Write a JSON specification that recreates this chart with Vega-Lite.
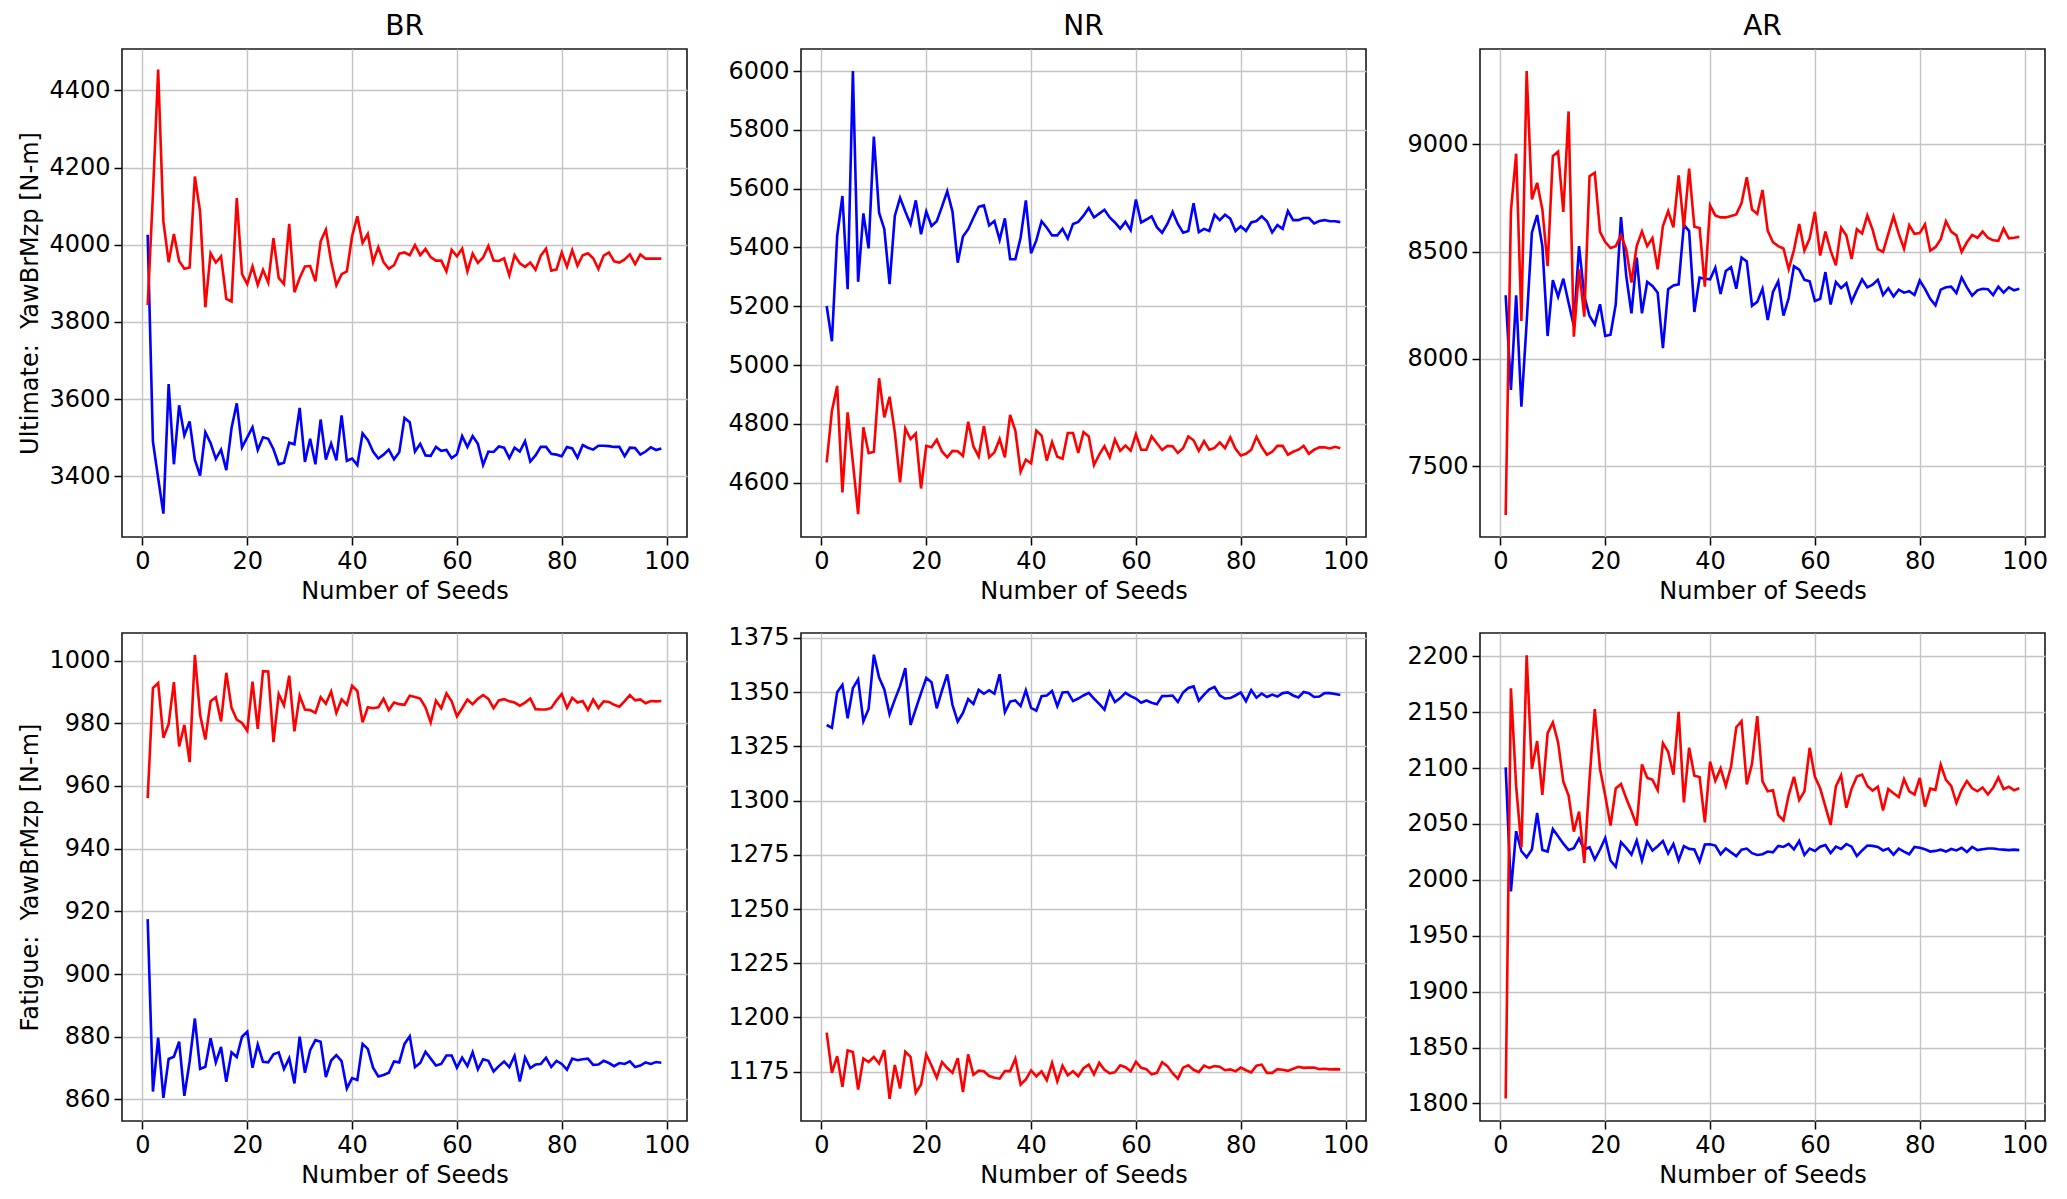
{
  "$schema": "https://vega.github.io/schema/vega-lite/v6.json",
  "background": "white",
  "padding": {"left": 18, "top": 12, "right": 10, "bottom": 5},
  "bounds": "flush",
  "columns": 3,
  "spacing": {"row": 96, "column": 114},
  "config": {
    "font": "DejaVu Sans",
    "view": {"stroke": "#1a1a1a", "strokeWidth": 1.6},
    "axis": {
      "grid": true, "gridColor": "#c4c4c4", "gridWidth": 1.4, "domain": false,
      "tickColor": "#000", "tickSize": 8, "tickWidth": 1.5, "format": "d",
      "labelFontSize": 24, "labelColor": "#000", "labelOverlap": false, "labelFlush": false, "labelPadding": 4,
      "titleFontSize": 24, "titleFontWeight": "normal", "titleColor": "#000", "titlePadding": 6
    },
    "title": {"fontSize": 28, "fontWeight": "normal", "color": "#000", "offset": 8},
    "line": {"strokeWidth": 2.6}
  },
  "datasets": {
    "bru": [
      {"s":"b","n":1,"v":4026},{"s":"b","n":2,"v":3490},{"s":"b","n":3,"v":3395},{"s":"b","n":4,"v":3303},{"s":"b","n":5,"v":3639},{"s":"b","n":6,"v":3431},{"s":"b","n":7,"v":3584},{"s":"b","n":8,"v":3506},{"s":"b","n":9,"v":3542},{"s":"b","n":10,"v":3443},
      {"s":"b","n":11,"v":3402},{"s":"b","n":12,"v":3514},{"s":"b","n":13,"v":3486},{"s":"b","n":14,"v":3445},{"s":"b","n":15,"v":3469},{"s":"b","n":16,"v":3416},{"s":"b","n":17,"v":3525},{"s":"b","n":18,"v":3589},{"s":"b","n":19,"v":3475},{"s":"b","n":20,"v":3501},
      {"s":"b","n":21,"v":3527},{"s":"b","n":22,"v":3468},{"s":"b","n":23,"v":3501},{"s":"b","n":24,"v":3497},{"s":"b","n":25,"v":3470},{"s":"b","n":26,"v":3431},{"s":"b","n":27,"v":3435},{"s":"b","n":28,"v":3487},{"s":"b","n":29,"v":3483},{"s":"b","n":30,"v":3577},
      {"s":"b","n":31,"v":3437},{"s":"b","n":32,"v":3497},{"s":"b","n":33,"v":3431},{"s":"b","n":34,"v":3547},{"s":"b","n":35,"v":3443},{"s":"b","n":36,"v":3485},{"s":"b","n":37,"v":3441},{"s":"b","n":38,"v":3558},{"s":"b","n":39,"v":3440},{"s":"b","n":40,"v":3446},
      {"s":"b","n":41,"v":3429},{"s":"b","n":42,"v":3511},{"s":"b","n":43,"v":3494},{"s":"b","n":44,"v":3464},{"s":"b","n":45,"v":3446},{"s":"b","n":46,"v":3456},{"s":"b","n":47,"v":3469},{"s":"b","n":48,"v":3444},{"s":"b","n":49,"v":3462},{"s":"b","n":50,"v":3551},
      {"s":"b","n":51,"v":3540},{"s":"b","n":52,"v":3464},{"s":"b","n":53,"v":3484},{"s":"b","n":54,"v":3454},{"s":"b","n":55,"v":3453},{"s":"b","n":56,"v":3476},{"s":"b","n":57,"v":3466},{"s":"b","n":58,"v":3468},{"s":"b","n":59,"v":3447},{"s":"b","n":60,"v":3457},
      {"s":"b","n":61,"v":3504},{"s":"b","n":62,"v":3476},{"s":"b","n":63,"v":3504},{"s":"b","n":64,"v":3484},{"s":"b","n":65,"v":3429},{"s":"b","n":66,"v":3464},{"s":"b","n":67,"v":3463},{"s":"b","n":68,"v":3477},{"s":"b","n":69,"v":3474},{"s":"b","n":70,"v":3447},
      {"s":"b","n":71,"v":3474},{"s":"b","n":72,"v":3464},{"s":"b","n":73,"v":3491},{"s":"b","n":74,"v":3438},{"s":"b","n":75,"v":3454},{"s":"b","n":76,"v":3476},{"s":"b","n":77,"v":3476},{"s":"b","n":78,"v":3458},{"s":"b","n":79,"v":3456},{"s":"b","n":80,"v":3452},
      {"s":"b","n":81,"v":3476},{"s":"b","n":82,"v":3472},{"s":"b","n":83,"v":3448},{"s":"b","n":84,"v":3481},{"s":"b","n":85,"v":3474},{"s":"b","n":86,"v":3469},{"s":"b","n":87,"v":3479},{"s":"b","n":88,"v":3479},{"s":"b","n":89,"v":3478},{"s":"b","n":90,"v":3476},
      {"s":"b","n":91,"v":3476},{"s":"b","n":92,"v":3452},{"s":"b","n":93,"v":3474},{"s":"b","n":94,"v":3473},{"s":"b","n":95,"v":3456},{"s":"b","n":96,"v":3464},{"s":"b","n":97,"v":3475},{"s":"b","n":98,"v":3468},{"s":"b","n":99,"v":3472},
      {"s":"r","n":1,"v":3844},{"s":"r","n":2,"v":4130},{"s":"r","n":3,"v":4454},{"s":"r","n":4,"v":4060},{"s":"r","n":5,"v":3955},{"s":"r","n":6,"v":4028},{"s":"r","n":7,"v":3958},{"s":"r","n":8,"v":3938},{"s":"r","n":9,"v":3941},{"s":"r","n":10,"v":4177},
      {"s":"r","n":11,"v":4086},{"s":"r","n":12,"v":3838},{"s":"r","n":13,"v":3978},{"s":"r","n":14,"v":3954},{"s":"r","n":15,"v":3970},{"s":"r","n":16,"v":3860},{"s":"r","n":17,"v":3853},{"s":"r","n":18,"v":4121},{"s":"r","n":19,"v":3924},{"s":"r","n":20,"v":3898},
      {"s":"r","n":21,"v":3944},{"s":"r","n":22,"v":3896},{"s":"r","n":23,"v":3935},{"s":"r","n":24,"v":3902},{"s":"r","n":25,"v":4017},{"s":"r","n":26,"v":3914},{"s":"r","n":27,"v":3898},{"s":"r","n":28,"v":4054},{"s":"r","n":29,"v":3877},{"s":"r","n":30,"v":3914},
      {"s":"r","n":31,"v":3944},{"s":"r","n":32,"v":3945},{"s":"r","n":33,"v":3905},{"s":"r","n":34,"v":4009},{"s":"r","n":35,"v":4039},{"s":"r","n":36,"v":3957},{"s":"r","n":37,"v":3895},{"s":"r","n":38,"v":3924},{"s":"r","n":39,"v":3931},{"s":"r","n":40,"v":4022},
      {"s":"r","n":41,"v":4074},{"s":"r","n":42,"v":4005},{"s":"r","n":43,"v":4028},{"s":"r","n":44,"v":3955},{"s":"r","n":45,"v":3994},{"s":"r","n":46,"v":3955},{"s":"r","n":47,"v":3938},{"s":"r","n":48,"v":3947},{"s":"r","n":49,"v":3977},{"s":"r","n":50,"v":3980},
      {"s":"r","n":51,"v":3973},{"s":"r","n":52,"v":3999},{"s":"r","n":53,"v":3973},{"s":"r","n":54,"v":3989},{"s":"r","n":55,"v":3968},{"s":"r","n":56,"v":3959},{"s":"r","n":57,"v":3959},{"s":"r","n":58,"v":3931},{"s":"r","n":59,"v":3987},{"s":"r","n":60,"v":3970},
      {"s":"r","n":61,"v":3990},{"s":"r","n":62,"v":3931},{"s":"r","n":63,"v":3977},{"s":"r","n":64,"v":3953},{"s":"r","n":65,"v":3967},{"s":"r","n":66,"v":3997},{"s":"r","n":67,"v":3959},{"s":"r","n":68,"v":3958},{"s":"r","n":69,"v":3965},{"s":"r","n":70,"v":3921},
      {"s":"r","n":71,"v":3973},{"s":"r","n":72,"v":3952},{"s":"r","n":73,"v":3943},{"s":"r","n":74,"v":3954},{"s":"r","n":75,"v":3935},{"s":"r","n":76,"v":3972},{"s":"r","n":77,"v":3990},{"s":"r","n":78,"v":3933},{"s":"r","n":79,"v":3936},{"s":"r","n":80,"v":3980},
      {"s":"r","n":81,"v":3943},{"s":"r","n":82,"v":3986},{"s":"r","n":83,"v":3946},{"s":"r","n":84,"v":3973},{"s":"r","n":85,"v":3978},{"s":"r","n":86,"v":3965},{"s":"r","n":87,"v":3937},{"s":"r","n":88,"v":3972},{"s":"r","n":89,"v":3980},{"s":"r","n":90,"v":3957},
      {"s":"r","n":91,"v":3954},{"s":"r","n":92,"v":3962},{"s":"r","n":93,"v":3975},{"s":"r","n":94,"v":3950},{"s":"r","n":95,"v":3975},{"s":"r","n":96,"v":3964},{"s":"r","n":97,"v":3964},{"s":"r","n":98,"v":3964},{"s":"r","n":99,"v":3964}
    ],
    "nru": [
      {"s":"b","n":1,"v":5201},{"s":"b","n":2,"v":5081},{"s":"b","n":3,"v":5439},{"s":"b","n":4,"v":5575},{"s":"b","n":5,"v":5258},{"s":"b","n":6,"v":6000},{"s":"b","n":7,"v":5283},{"s":"b","n":8,"v":5516},{"s":"b","n":9,"v":5397},{"s":"b","n":10,"v":5777},
      {"s":"b","n":11,"v":5518},{"s":"b","n":12,"v":5462},{"s":"b","n":13,"v":5275},{"s":"b","n":14,"v":5507},{"s":"b","n":15,"v":5569},{"s":"b","n":16,"v":5522},{"s":"b","n":17,"v":5479},{"s":"b","n":18,"v":5560},{"s":"b","n":19,"v":5445},{"s":"b","n":20,"v":5522},
      {"s":"b","n":21,"v":5473},{"s":"b","n":22,"v":5489},{"s":"b","n":23,"v":5539},{"s":"b","n":24,"v":5591},{"s":"b","n":25,"v":5522},{"s":"b","n":26,"v":5348},{"s":"b","n":27,"v":5437},{"s":"b","n":28,"v":5462},{"s":"b","n":29,"v":5501},{"s":"b","n":30,"v":5538},
      {"s":"b","n":31,"v":5543},{"s":"b","n":32,"v":5475},{"s":"b","n":33,"v":5490},{"s":"b","n":34,"v":5426},{"s":"b","n":35,"v":5499},{"s":"b","n":36,"v":5360},{"s":"b","n":37,"v":5360},{"s":"b","n":38,"v":5433},{"s":"b","n":39,"v":5560},{"s":"b","n":40,"v":5380},
      {"s":"b","n":41,"v":5424},{"s":"b","n":42,"v":5489},{"s":"b","n":43,"v":5467},{"s":"b","n":44,"v":5441},{"s":"b","n":45,"v":5441},{"s":"b","n":46,"v":5463},{"s":"b","n":47,"v":5430},{"s":"b","n":48,"v":5480},{"s":"b","n":49,"v":5487},{"s":"b","n":50,"v":5508},
      {"s":"b","n":51,"v":5534},{"s":"b","n":52,"v":5502},{"s":"b","n":53,"v":5515},{"s":"b","n":54,"v":5528},{"s":"b","n":55,"v":5502},{"s":"b","n":56,"v":5485},{"s":"b","n":57,"v":5464},{"s":"b","n":58,"v":5487},{"s":"b","n":59,"v":5459},{"s":"b","n":60,"v":5563},
      {"s":"b","n":61,"v":5485},{"s":"b","n":62,"v":5495},{"s":"b","n":63,"v":5506},{"s":"b","n":64,"v":5469},{"s":"b","n":65,"v":5450},{"s":"b","n":66,"v":5480},{"s":"b","n":67,"v":5521},{"s":"b","n":68,"v":5480},{"s":"b","n":69,"v":5450},{"s":"b","n":70,"v":5456},
      {"s":"b","n":71,"v":5550},{"s":"b","n":72,"v":5452},{"s":"b","n":73,"v":5463},{"s":"b","n":74,"v":5456},{"s":"b","n":75,"v":5511},{"s":"b","n":76,"v":5493},{"s":"b","n":77,"v":5511},{"s":"b","n":78,"v":5498},{"s":"b","n":79,"v":5456},{"s":"b","n":80,"v":5472},
      {"s":"b","n":81,"v":5456},{"s":"b","n":82,"v":5485},{"s":"b","n":83,"v":5490},{"s":"b","n":84,"v":5506},{"s":"b","n":85,"v":5489},{"s":"b","n":86,"v":5451},{"s":"b","n":87,"v":5476},{"s":"b","n":88,"v":5463},{"s":"b","n":89,"v":5524},{"s":"b","n":90,"v":5493},
      {"s":"b","n":91,"v":5493},{"s":"b","n":92,"v":5500},{"s":"b","n":93,"v":5500},{"s":"b","n":94,"v":5482},{"s":"b","n":95,"v":5490},{"s":"b","n":96,"v":5493},{"s":"b","n":97,"v":5489},{"s":"b","n":98,"v":5489},{"s":"b","n":99,"v":5486},
      {"s":"r","n":1,"v":4669},{"s":"r","n":2,"v":4844},{"s":"r","n":3,"v":4929},{"s":"r","n":4,"v":4567},{"s":"r","n":5,"v":4839},{"s":"r","n":6,"v":4669},{"s":"r","n":7,"v":4493},{"s":"r","n":8,"v":4788},{"s":"r","n":9,"v":4700},{"s":"r","n":10,"v":4705},
      {"s":"r","n":11,"v":4955},{"s":"r","n":12,"v":4822},{"s":"r","n":13,"v":4892},{"s":"r","n":14,"v":4771},{"s":"r","n":15,"v":4601},{"s":"r","n":16,"v":4784},{"s":"r","n":17,"v":4748},{"s":"r","n":18,"v":4767},{"s":"r","n":19,"v":4580},{"s":"r","n":20,"v":4725},
      {"s":"r","n":21,"v":4720},{"s":"r","n":22,"v":4746},{"s":"r","n":23,"v":4706},{"s":"r","n":24,"v":4686},{"s":"r","n":25,"v":4708},{"s":"r","n":26,"v":4707},{"s":"r","n":27,"v":4691},{"s":"r","n":28,"v":4807},{"s":"r","n":29,"v":4723},{"s":"r","n":30,"v":4689},
      {"s":"r","n":31,"v":4793},{"s":"r","n":32,"v":4686},{"s":"r","n":33,"v":4703},{"s":"r","n":34,"v":4748},{"s":"r","n":35,"v":4686},{"s":"r","n":36,"v":4830},{"s":"r","n":37,"v":4776},{"s":"r","n":38,"v":4637},{"s":"r","n":39,"v":4678},{"s":"r","n":40,"v":4666},
      {"s":"r","n":41,"v":4777},{"s":"r","n":42,"v":4760},{"s":"r","n":43,"v":4675},{"s":"r","n":44,"v":4738},{"s":"r","n":45,"v":4688},{"s":"r","n":46,"v":4681},{"s":"r","n":47,"v":4769},{"s":"r","n":48,"v":4769},{"s":"r","n":49,"v":4701},{"s":"r","n":50,"v":4772},
      {"s":"r","n":51,"v":4757},{"s":"r","n":52,"v":4660},{"s":"r","n":53,"v":4695},{"s":"r","n":54,"v":4724},{"s":"r","n":55,"v":4686},{"s":"r","n":56,"v":4747},{"s":"r","n":57,"v":4708},{"s":"r","n":58,"v":4726},{"s":"r","n":59,"v":4709},{"s":"r","n":60,"v":4764},
      {"s":"r","n":61,"v":4712},{"s":"r","n":62,"v":4712},{"s":"r","n":63,"v":4757},{"s":"r","n":64,"v":4734},{"s":"r","n":65,"v":4711},{"s":"r","n":66,"v":4725},{"s":"r","n":67,"v":4724},{"s":"r","n":68,"v":4701},{"s":"r","n":69,"v":4717},{"s":"r","n":70,"v":4757},
      {"s":"r","n":71,"v":4744},{"s":"r","n":72,"v":4708},{"s":"r","n":73,"v":4741},{"s":"r","n":74,"v":4712},{"s":"r","n":75,"v":4718},{"s":"r","n":76,"v":4737},{"s":"r","n":77,"v":4717},{"s":"r","n":78,"v":4754},{"s":"r","n":79,"v":4715},{"s":"r","n":80,"v":4692},
      {"s":"r","n":81,"v":4698},{"s":"r","n":82,"v":4712},{"s":"r","n":83,"v":4756},{"s":"r","n":84,"v":4721},{"s":"r","n":85,"v":4695},{"s":"r","n":86,"v":4705},{"s":"r","n":87,"v":4725},{"s":"r","n":88,"v":4725},{"s":"r","n":89,"v":4695},{"s":"r","n":90,"v":4705},
      {"s":"r","n":91,"v":4712},{"s":"r","n":92,"v":4725},{"s":"r","n":93,"v":4698},{"s":"r","n":94,"v":4712},{"s":"r","n":95,"v":4720},{"s":"r","n":96,"v":4720},{"s":"r","n":97,"v":4716},{"s":"r","n":98,"v":4722},{"s":"r","n":99,"v":4717}
    ],
    "aru": [
      {"s":"b","n":1,"v":8297},{"s":"b","n":2,"v":7856},{"s":"b","n":3,"v":8297},{"s":"b","n":4,"v":7778},{"s":"b","n":5,"v":8169},{"s":"b","n":6,"v":8589},{"s":"b","n":7,"v":8671},{"s":"b","n":8,"v":8526},{"s":"b","n":9,"v":8107},{"s":"b","n":10,"v":8368},
      {"s":"b","n":11,"v":8290},{"s":"b","n":12,"v":8374},{"s":"b","n":13,"v":8262},{"s":"b","n":14,"v":8154},{"s":"b","n":15,"v":8526},{"s":"b","n":16,"v":8293},{"s":"b","n":17,"v":8200},{"s":"b","n":18,"v":8161},{"s":"b","n":19,"v":8255},{"s":"b","n":20,"v":8107},
      {"s":"b","n":21,"v":8113},{"s":"b","n":22,"v":8255},{"s":"b","n":23,"v":8661},{"s":"b","n":24,"v":8387},{"s":"b","n":25,"v":8213},{"s":"b","n":26,"v":8472},{"s":"b","n":27,"v":8213},{"s":"b","n":28,"v":8359},{"s":"b","n":29,"v":8340},{"s":"b","n":30,"v":8309},
      {"s":"b","n":31,"v":8051},{"s":"b","n":32,"v":8325},{"s":"b","n":33,"v":8343},{"s":"b","n":34,"v":8348},{"s":"b","n":35,"v":8626},{"s":"b","n":36,"v":8596},{"s":"b","n":37,"v":8219},{"s":"b","n":38,"v":8379},{"s":"b","n":39,"v":8374},{"s":"b","n":40,"v":8371},
      {"s":"b","n":41,"v":8425},{"s":"b","n":42,"v":8303},{"s":"b","n":43,"v":8410},{"s":"b","n":44,"v":8428},{"s":"b","n":45,"v":8327},{"s":"b","n":46,"v":8473},{"s":"b","n":47,"v":8455},{"s":"b","n":48,"v":8248},{"s":"b","n":49,"v":8266},{"s":"b","n":50,"v":8327},
      {"s":"b","n":51,"v":8182},{"s":"b","n":52,"v":8312},{"s":"b","n":53,"v":8362},{"s":"b","n":54,"v":8202},{"s":"b","n":55,"v":8284},{"s":"b","n":56,"v":8432},{"s":"b","n":57,"v":8416},{"s":"b","n":58,"v":8369},{"s":"b","n":59,"v":8362},{"s":"b","n":60,"v":8270},
      {"s":"b","n":61,"v":8280},{"s":"b","n":62,"v":8405},{"s":"b","n":63,"v":8254},{"s":"b","n":64,"v":8359},{"s":"b","n":65,"v":8330},{"s":"b","n":66,"v":8353},{"s":"b","n":67,"v":8266},{"s":"b","n":68,"v":8321},{"s":"b","n":69,"v":8371},{"s":"b","n":70,"v":8334},
      {"s":"b","n":71,"v":8346},{"s":"b","n":72,"v":8369},{"s":"b","n":73,"v":8298},{"s":"b","n":74,"v":8330},{"s":"b","n":75,"v":8291},{"s":"b","n":76,"v":8323},{"s":"b","n":77,"v":8309},{"s":"b","n":78,"v":8316},{"s":"b","n":79,"v":8298},{"s":"b","n":80,"v":8366},
      {"s":"b","n":81,"v":8327},{"s":"b","n":82,"v":8280},{"s":"b","n":83,"v":8250},{"s":"b","n":84,"v":8323},{"s":"b","n":85,"v":8334},{"s":"b","n":86,"v":8337},{"s":"b","n":87,"v":8307},{"s":"b","n":88,"v":8380},{"s":"b","n":89,"v":8334},{"s":"b","n":90,"v":8295},
      {"s":"b","n":91,"v":8320},{"s":"b","n":92,"v":8327},{"s":"b","n":93,"v":8325},{"s":"b","n":94,"v":8298},{"s":"b","n":95,"v":8337},{"s":"b","n":96,"v":8309},{"s":"b","n":97,"v":8334},{"s":"b","n":98,"v":8320},{"s":"b","n":99,"v":8327},
      {"s":"r","n":1,"v":7273},{"s":"r","n":2,"v":8689},{"s":"r","n":3,"v":8957},{"s":"r","n":4,"v":8177},{"s":"r","n":5,"v":9342},{"s":"r","n":6,"v":8744},{"s":"r","n":7,"v":8821},{"s":"r","n":8,"v":8697},{"s":"r","n":9,"v":8433},{"s":"r","n":10,"v":8946},
      {"s":"r","n":11,"v":8967},{"s":"r","n":12,"v":8686},{"s":"r","n":13,"v":9154},{"s":"r","n":14,"v":8104},{"s":"r","n":15,"v":8418},{"s":"r","n":16,"v":8197},{"s":"r","n":17,"v":8852},{"s":"r","n":18,"v":8868},{"s":"r","n":19,"v":8592},{"s":"r","n":20,"v":8545},
      {"s":"r","n":21,"v":8517},{"s":"r","n":22,"v":8526},{"s":"r","n":23,"v":8576},{"s":"r","n":24,"v":8511},{"s":"r","n":25,"v":8356},{"s":"r","n":26,"v":8526},{"s":"r","n":27,"v":8595},{"s":"r","n":28,"v":8526},{"s":"r","n":29,"v":8564},{"s":"r","n":30,"v":8418},
      {"s":"r","n":31,"v":8620},{"s":"r","n":32,"v":8689},{"s":"r","n":33,"v":8613},{"s":"r","n":34,"v":8856},{"s":"r","n":35,"v":8612},{"s":"r","n":36,"v":8887},{"s":"r","n":37,"v":8616},{"s":"r","n":38,"v":8610},{"s":"r","n":39,"v":8337},{"s":"r","n":40,"v":8716},
      {"s":"r","n":41,"v":8669},{"s":"r","n":42,"v":8660},{"s":"r","n":43,"v":8660},{"s":"r","n":44,"v":8667},{"s":"r","n":45,"v":8674},{"s":"r","n":46,"v":8727},{"s":"r","n":47,"v":8847},{"s":"r","n":48,"v":8697},{"s":"r","n":49,"v":8676},{"s":"r","n":50,"v":8788},
      {"s":"r","n":51,"v":8597},{"s":"r","n":52,"v":8544},{"s":"r","n":53,"v":8526},{"s":"r","n":54,"v":8515},{"s":"r","n":55,"v":8419},{"s":"r","n":56,"v":8508},{"s":"r","n":57,"v":8629},{"s":"r","n":58,"v":8505},{"s":"r","n":59,"v":8562},{"s":"r","n":60,"v":8686},
      {"s":"r","n":61,"v":8482},{"s":"r","n":62,"v":8594},{"s":"r","n":63,"v":8505},{"s":"r","n":64,"v":8437},{"s":"r","n":65,"v":8612},{"s":"r","n":66,"v":8576},{"s":"r","n":67,"v":8466},{"s":"r","n":68,"v":8605},{"s":"r","n":69,"v":8585},{"s":"r","n":70,"v":8669},
      {"s":"r","n":71,"v":8603},{"s":"r","n":72,"v":8512},{"s":"r","n":73,"v":8499},{"s":"r","n":74,"v":8583},{"s":"r","n":75,"v":8665},{"s":"r","n":76,"v":8583},{"s":"r","n":77,"v":8514},{"s":"r","n":78,"v":8624},{"s":"r","n":79,"v":8583},{"s":"r","n":80,"v":8587},
      {"s":"r","n":81,"v":8628},{"s":"r","n":82,"v":8505},{"s":"r","n":83,"v":8521},{"s":"r","n":84,"v":8558},{"s":"r","n":85,"v":8642},{"s":"r","n":86,"v":8594},{"s":"r","n":87,"v":8576},{"s":"r","n":88,"v":8499},{"s":"r","n":89,"v":8544},{"s":"r","n":90,"v":8578},
      {"s":"r","n":91,"v":8565},{"s":"r","n":92,"v":8594},{"s":"r","n":93,"v":8565},{"s":"r","n":94,"v":8553},{"s":"r","n":95,"v":8551},{"s":"r","n":96,"v":8608},{"s":"r","n":97,"v":8562},{"s":"r","n":98,"v":8565},{"s":"r","n":99,"v":8570}
    ],
    "brf": [
      {"s":"b","n":1,"v":917.5},{"s":"b","n":2,"v":862.5},{"s":"b","n":3,"v":879.7},{"s":"b","n":4,"v":860.5},{"s":"b","n":5,"v":872.9},{"s":"b","n":6,"v":873.6},{"s":"b","n":7,"v":878.4},{"s":"b","n":8,"v":861.1},{"s":"b","n":9,"v":872.0},{"s":"b","n":10,"v":885.8},
      {"s":"b","n":11,"v":869.7},{"s":"b","n":12,"v":870.4},{"s":"b","n":13,"v":879.5},{"s":"b","n":14,"v":871.8},{"s":"b","n":15,"v":876.7},{"s":"b","n":16,"v":865.6},{"s":"b","n":17,"v":875.0},{"s":"b","n":18,"v":873.5},{"s":"b","n":19,"v":880.0},{"s":"b","n":20,"v":881.6},
      {"s":"b","n":21,"v":870.1},{"s":"b","n":22,"v":877.5},{"s":"b","n":23,"v":872.0},{"s":"b","n":24,"v":871.8},{"s":"b","n":25,"v":874.4},{"s":"b","n":26,"v":875.0},{"s":"b","n":27,"v":869.7},{"s":"b","n":28,"v":873.1},{"s":"b","n":29,"v":865.1},{"s":"b","n":30,"v":880.0},
      {"s":"b","n":31,"v":868.5},{"s":"b","n":32,"v":875.7},{"s":"b","n":33,"v":878.9},{"s":"b","n":34,"v":878.4},{"s":"b","n":35,"v":867.1},{"s":"b","n":36,"v":872.4},{"s":"b","n":37,"v":874.1},{"s":"b","n":38,"v":872.2},{"s":"b","n":39,"v":863.5},{"s":"b","n":40,"v":866.8},
      {"s":"b","n":41,"v":866.2},{"s":"b","n":42,"v":877.7},{"s":"b","n":43,"v":876.1},{"s":"b","n":44,"v":870.1},{"s":"b","n":45,"v":867.3},{"s":"b","n":46,"v":867.8},{"s":"b","n":47,"v":868.5},{"s":"b","n":48,"v":872.1},{"s":"b","n":49,"v":871.8},{"s":"b","n":50,"v":877.7},
      {"s":"b","n":51,"v":880.1},{"s":"b","n":52,"v":870.3},{"s":"b","n":53,"v":871.6},{"s":"b","n":54,"v":875.2},{"s":"b","n":55,"v":873.0},{"s":"b","n":56,"v":870.8},{"s":"b","n":57,"v":871.3},{"s":"b","n":58,"v":874.0},{"s":"b","n":59,"v":874.0},{"s":"b","n":60,"v":870.1},
      {"s":"b","n":61,"v":873.3},{"s":"b","n":62,"v":870.6},{"s":"b","n":63,"v":875.0},{"s":"b","n":64,"v":869.6},{"s":"b","n":65,"v":872.8},{"s":"b","n":66,"v":872.3},{"s":"b","n":67,"v":868.9},{"s":"b","n":68,"v":870.6},{"s":"b","n":69,"v":872.1},{"s":"b","n":70,"v":870.3},
      {"s":"b","n":71,"v":873.9},{"s":"b","n":72,"v":865.7},{"s":"b","n":73,"v":873.4},{"s":"b","n":74,"v":870.0},{"s":"b","n":75,"v":871.1},{"s":"b","n":76,"v":871.3},{"s":"b","n":77,"v":873.3},{"s":"b","n":78,"v":870.3},{"s":"b","n":79,"v":872.3},{"s":"b","n":80,"v":871.3},
      {"s":"b","n":81,"v":869.5},{"s":"b","n":82,"v":873.0},{"s":"b","n":83,"v":872.5},{"s":"b","n":84,"v":872.8},{"s":"b","n":85,"v":873.0},{"s":"b","n":86,"v":871.0},{"s":"b","n":87,"v":871.1},{"s":"b","n":88,"v":872.3},{"s":"b","n":89,"v":871.6},{"s":"b","n":90,"v":870.6},
      {"s":"b","n":91,"v":871.6},{"s":"b","n":92,"v":871.3},{"s":"b","n":93,"v":872.1},{"s":"b","n":94,"v":870.3},{"s":"b","n":95,"v":870.8},{"s":"b","n":96,"v":871.8},{"s":"b","n":97,"v":871.3},{"s":"b","n":98,"v":871.9},{"s":"b","n":99,"v":871.7},
      {"s":"r","n":1,"v":956.1},{"s":"r","n":2,"v":991.2},{"s":"r","n":3,"v":992.8},{"s":"r","n":4,"v":975.4},{"s":"r","n":5,"v":979.8},{"s":"r","n":6,"v":993.1},{"s":"r","n":7,"v":972.6},{"s":"r","n":8,"v":979.5},{"s":"r","n":9,"v":967.6},{"s":"r","n":10,"v":1001.8},
      {"s":"r","n":11,"v":982.7},{"s":"r","n":12,"v":974.8},{"s":"r","n":13,"v":987.0},{"s":"r","n":14,"v":988.3},{"s":"r","n":15,"v":980.6},{"s":"r","n":16,"v":996.1},{"s":"r","n":17,"v":984.9},{"s":"r","n":18,"v":981.2},{"s":"r","n":19,"v":980.1},{"s":"r","n":20,"v":977.6},
      {"s":"r","n":21,"v":993.3},{"s":"r","n":22,"v":978.2},{"s":"r","n":23,"v":996.6},{"s":"r","n":24,"v":996.5},{"s":"r","n":25,"v":974.0},{"s":"r","n":26,"v":989.3},{"s":"r","n":27,"v":985.7},{"s":"r","n":28,"v":995.2},{"s":"r","n":29,"v":977.4},{"s":"r","n":30,"v":988.8},
      {"s":"r","n":31,"v":984.4},{"s":"r","n":32,"v":984.2},{"s":"r","n":33,"v":983.3},{"s":"r","n":34,"v":988.3},{"s":"r","n":35,"v":986.2},{"s":"r","n":36,"v":990.1},{"s":"r","n":37,"v":983.3},{"s":"r","n":38,"v":987.6},{"s":"r","n":39,"v":985.9},{"s":"r","n":40,"v":992.0},
      {"s":"r","n":41,"v":990.3},{"s":"r","n":42,"v":980.3},{"s":"r","n":43,"v":985.1},{"s":"r","n":44,"v":984.8},{"s":"r","n":45,"v":985.1},{"s":"r","n":46,"v":987.8},{"s":"r","n":47,"v":984.2},{"s":"r","n":48,"v":986.6},{"s":"r","n":49,"v":986.1},{"s":"r","n":50,"v":985.9},
      {"s":"r","n":51,"v":988.8},{"s":"r","n":52,"v":988.4},{"s":"r","n":53,"v":987.9},{"s":"r","n":54,"v":985.1},{"s":"r","n":55,"v":980.3},{"s":"r","n":56,"v":987.2},{"s":"r","n":57,"v":984.8},{"s":"r","n":58,"v":989.5},{"s":"r","n":59,"v":987.0},{"s":"r","n":60,"v":982.2},
      {"s":"r","n":61,"v":984.8},{"s":"r","n":62,"v":987.6},{"s":"r","n":63,"v":986.1},{"s":"r","n":64,"v":987.8},{"s":"r","n":65,"v":989.0},{"s":"r","n":66,"v":987.8},{"s":"r","n":67,"v":984.8},{"s":"r","n":68,"v":987.3},{"s":"r","n":69,"v":987.7},{"s":"r","n":70,"v":987.0},
      {"s":"r","n":71,"v":986.6},{"s":"r","n":72,"v":985.6},{"s":"r","n":73,"v":986.6},{"s":"r","n":74,"v":987.9},{"s":"r","n":75,"v":984.5},{"s":"r","n":76,"v":984.4},{"s":"r","n":77,"v":984.4},{"s":"r","n":78,"v":984.9},{"s":"r","n":79,"v":987.3},{"s":"r","n":80,"v":989.3},
      {"s":"r","n":81,"v":984.9},{"s":"r","n":82,"v":988.1},{"s":"r","n":83,"v":986.6},{"s":"r","n":84,"v":987.1},{"s":"r","n":85,"v":984.2},{"s":"r","n":86,"v":987.6},{"s":"r","n":87,"v":984.9},{"s":"r","n":88,"v":987.0},{"s":"r","n":89,"v":986.8},{"s":"r","n":90,"v":985.9},
      {"s":"r","n":91,"v":985.3},{"s":"r","n":92,"v":987.1},{"s":"r","n":93,"v":989.0},{"s":"r","n":94,"v":987.3},{"s":"r","n":95,"v":987.6},{"s":"r","n":96,"v":986.4},{"s":"r","n":97,"v":987.1},{"s":"r","n":98,"v":987.0},{"s":"r","n":99,"v":987.1}
    ],
    "nrf": [
      {"s":"b","n":1,"v":1334.8},{"s":"b","n":2,"v":1333.5},{"s":"b","n":3,"v":1349.9},{"s":"b","n":4,"v":1353.3},{"s":"b","n":5,"v":1337.9},{"s":"b","n":6,"v":1351.8},{"s":"b","n":7,"v":1355.8},{"s":"b","n":8,"v":1336.5},{"s":"b","n":9,"v":1342.2},{"s":"b","n":10,"v":1367.2},
      {"s":"b","n":11,"v":1356.7},{"s":"b","n":12,"v":1351.2},{"s":"b","n":13,"v":1339.8},{"s":"b","n":14,"v":1346.5},{"s":"b","n":15,"v":1352.7},{"s":"b","n":16,"v":1361.0},{"s":"b","n":17,"v":1334.8},{"s":"b","n":18,"v":1342.2},{"s":"b","n":19,"v":1349.5},{"s":"b","n":20,"v":1356.5},
      {"s":"b","n":21,"v":1354.5},{"s":"b","n":22,"v":1342.5},{"s":"b","n":23,"v":1350.7},{"s":"b","n":24,"v":1358.1},{"s":"b","n":25,"v":1344.1},{"s":"b","n":26,"v":1336.4},{"s":"b","n":27,"v":1340.4},{"s":"b","n":28,"v":1346.8},{"s":"b","n":29,"v":1344.5},{"s":"b","n":30,"v":1351.0},
      {"s":"b","n":31,"v":1349.2},{"s":"b","n":32,"v":1350.8},{"s":"b","n":33,"v":1349.2},{"s":"b","n":34,"v":1358.2},{"s":"b","n":35,"v":1340.7},{"s":"b","n":36,"v":1345.6},{"s":"b","n":37,"v":1346.1},{"s":"b","n":38,"v":1343.5},{"s":"b","n":39,"v":1350.8},{"s":"b","n":40,"v":1342.7},
      {"s":"b","n":41,"v":1341.4},{"s":"b","n":42,"v":1348.1},{"s":"b","n":43,"v":1348.4},{"s":"b","n":44,"v":1350.5},{"s":"b","n":45,"v":1343.5},{"s":"b","n":46,"v":1349.8},{"s":"b","n":47,"v":1350.0},{"s":"b","n":48,"v":1345.8},{"s":"b","n":49,"v":1347.0},{"s":"b","n":50,"v":1348.4},
      {"s":"b","n":51,"v":1349.6},{"s":"b","n":52,"v":1347.0},{"s":"b","n":53,"v":1344.5},{"s":"b","n":54,"v":1341.9},{"s":"b","n":55,"v":1350.0},{"s":"b","n":56,"v":1345.4},{"s":"b","n":57,"v":1347.2},{"s":"b","n":58,"v":1349.6},{"s":"b","n":59,"v":1348.1},{"s":"b","n":60,"v":1347.0},
      {"s":"b","n":61,"v":1345.1},{"s":"b","n":62,"v":1346.1},{"s":"b","n":63,"v":1345.1},{"s":"b","n":64,"v":1344.4},{"s":"b","n":65,"v":1348.1},{"s":"b","n":66,"v":1348.2},{"s":"b","n":67,"v":1348.4},{"s":"b","n":68,"v":1345.4},{"s":"b","n":69,"v":1349.8},{"s":"b","n":70,"v":1351.9},
      {"s":"b","n":71,"v":1352.6},{"s":"b","n":72,"v":1346.0},{"s":"b","n":73,"v":1348.8},{"s":"b","n":74,"v":1351.2},{"s":"b","n":75,"v":1352.3},{"s":"b","n":76,"v":1348.4},{"s":"b","n":77,"v":1347.0},{"s":"b","n":78,"v":1347.2},{"s":"b","n":79,"v":1348.4},{"s":"b","n":80,"v":1349.8},
      {"s":"b","n":81,"v":1345.8},{"s":"b","n":82,"v":1350.9},{"s":"b","n":83,"v":1347.4},{"s":"b","n":84,"v":1349.3},{"s":"b","n":85,"v":1347.7},{"s":"b","n":86,"v":1348.8},{"s":"b","n":87,"v":1347.9},{"s":"b","n":88,"v":1349.5},{"s":"b","n":89,"v":1349.8},{"s":"b","n":90,"v":1348.4},
      {"s":"b","n":91,"v":1347.5},{"s":"b","n":92,"v":1350.0},{"s":"b","n":93,"v":1349.5},{"s":"b","n":94,"v":1347.7},{"s":"b","n":95,"v":1347.9},{"s":"b","n":96,"v":1349.5},{"s":"b","n":97,"v":1349.5},{"s":"b","n":98,"v":1349.1},{"s":"b","n":99,"v":1348.6},
      {"s":"r","n":1,"v":1193.0},{"s":"r","n":2,"v":1174.5},{"s":"r","n":3,"v":1182.2},{"s":"r","n":4,"v":1168.1},{"s":"r","n":5,"v":1184.8},{"s":"r","n":6,"v":1184.1},{"s":"r","n":7,"v":1166.8},{"s":"r","n":8,"v":1181.1},{"s":"r","n":9,"v":1179.5},{"s":"r","n":10,"v":1181.8},
      {"s":"r","n":11,"v":1178.8},{"s":"r","n":12,"v":1185.0},{"s":"r","n":13,"v":1162.5},{"s":"r","n":14,"v":1178.1},{"s":"r","n":15,"v":1167.3},{"s":"r","n":16,"v":1184.2},{"s":"r","n":17,"v":1181.9},{"s":"r","n":18,"v":1165.3},{"s":"r","n":19,"v":1169.1},{"s":"r","n":20,"v":1183.0},
      {"s":"r","n":21,"v":1177.9},{"s":"r","n":22,"v":1172.2},{"s":"r","n":23,"v":1179.5},{"s":"r","n":24,"v":1176.7},{"s":"r","n":25,"v":1174.5},{"s":"r","n":26,"v":1181.3},{"s":"r","n":27,"v":1165.6},{"s":"r","n":28,"v":1183.0},{"s":"r","n":29,"v":1173.6},{"s":"r","n":30,"v":1175.5},
      {"s":"r","n":31,"v":1175.2},{"s":"r","n":32,"v":1173.0},{"s":"r","n":33,"v":1172.2},{"s":"r","n":34,"v":1171.8},{"s":"r","n":35,"v":1175.3},{"s":"r","n":36,"v":1175.3},{"s":"r","n":37,"v":1181.0},{"s":"r","n":38,"v":1169.1},{"s":"r","n":39,"v":1171.5},{"s":"r","n":40,"v":1175.6},
      {"s":"r","n":41,"v":1172.9},{"s":"r","n":42,"v":1175.2},{"s":"r","n":43,"v":1171.1},{"s":"r","n":44,"v":1179.1},{"s":"r","n":45,"v":1170.6},{"s":"r","n":46,"v":1177.8},{"s":"r","n":47,"v":1173.4},{"s":"r","n":48,"v":1175.2},{"s":"r","n":49,"v":1172.9},{"s":"r","n":50,"v":1176.6},
      {"s":"r","n":51,"v":1178.3},{"s":"r","n":52,"v":1173.8},{"s":"r","n":53,"v":1179.1},{"s":"r","n":54,"v":1175.9},{"s":"r","n":55,"v":1174.3},{"s":"r","n":56,"v":1174.8},{"s":"r","n":57,"v":1178.0},{"s":"r","n":58,"v":1177.1},{"s":"r","n":59,"v":1175.2},{"s":"r","n":60,"v":1179.6},
      {"s":"r","n":61,"v":1176.8},{"s":"r","n":62,"v":1176.2},{"s":"r","n":63,"v":1173.8},{"s":"r","n":64,"v":1174.5},{"s":"r","n":65,"v":1179.4},{"s":"r","n":66,"v":1177.6},{"s":"r","n":67,"v":1174.3},{"s":"r","n":68,"v":1171.8},{"s":"r","n":69,"v":1176.9},{"s":"r","n":70,"v":1178.0},
      {"s":"r","n":71,"v":1175.9},{"s":"r","n":72,"v":1174.8},{"s":"r","n":73,"v":1177.8},{"s":"r","n":74,"v":1176.8},{"s":"r","n":75,"v":1177.6},{"s":"r","n":76,"v":1177.3},{"s":"r","n":77,"v":1175.7},{"s":"r","n":78,"v":1176.1},{"s":"r","n":79,"v":1175.2},{"s":"r","n":80,"v":1176.9},
      {"s":"r","n":81,"v":1175.7},{"s":"r","n":82,"v":1174.7},{"s":"r","n":83,"v":1177.8},{"s":"r","n":84,"v":1178.3},{"s":"r","n":85,"v":1174.5},{"s":"r","n":86,"v":1174.5},{"s":"r","n":87,"v":1176.2},{"s":"r","n":88,"v":1175.9},{"s":"r","n":89,"v":1175.4},{"s":"r","n":90,"v":1176.4},
      {"s":"r","n":91,"v":1177.3},{"s":"r","n":92,"v":1176.8},{"s":"r","n":93,"v":1176.9},{"s":"r","n":94,"v":1176.9},{"s":"r","n":95,"v":1176.2},{"s":"r","n":96,"v":1176.4},{"s":"r","n":97,"v":1176.1},{"s":"r","n":98,"v":1176.2},{"s":"r","n":99,"v":1176.1}
    ],
    "arf": [
      {"s":"b","n":1,"v":2100.6},{"s":"b","n":2,"v":1989.6},{"s":"b","n":3,"v":2043.5},{"s":"b","n":4,"v":2025.6},{"s":"b","n":5,"v":2020.2},{"s":"b","n":6,"v":2027.1},{"s":"b","n":7,"v":2059.8},{"s":"b","n":8,"v":2026.8},{"s":"b","n":9,"v":2025.3},{"s":"b","n":10,"v":2045.5},
      {"s":"b","n":11,"v":2039.0},{"s":"b","n":12,"v":2032.4},{"s":"b","n":13,"v":2026.8},{"s":"b","n":14,"v":2028.3},{"s":"b","n":15,"v":2036.9},{"s":"b","n":16,"v":2027.1},{"s":"b","n":17,"v":2029.2},{"s":"b","n":18,"v":2018.2},{"s":"b","n":19,"v":2027.1},{"s":"b","n":20,"v":2037.5},
      {"s":"b","n":21,"v":2017.3},{"s":"b","n":22,"v":2011.6},{"s":"b","n":23,"v":2033.6},{"s":"b","n":24,"v":2028.6},{"s":"b","n":25,"v":2022.6},{"s":"b","n":26,"v":2035.1},{"s":"b","n":27,"v":2017.3},{"s":"b","n":28,"v":2034.2},{"s":"b","n":29,"v":2026.2},{"s":"b","n":30,"v":2030.1},
      {"s":"b","n":31,"v":2034.8},{"s":"b","n":32,"v":2023.5},{"s":"b","n":33,"v":2032.1},{"s":"b","n":34,"v":2017.3},{"s":"b","n":35,"v":2030.1},{"s":"b","n":36,"v":2027.7},{"s":"b","n":37,"v":2027.1},{"s":"b","n":38,"v":2016.4},{"s":"b","n":39,"v":2031.6},{"s":"b","n":40,"v":2031.9},
      {"s":"b","n":41,"v":2030.7},{"s":"b","n":42,"v":2022.9},{"s":"b","n":43,"v":2028.0},{"s":"b","n":44,"v":2024.6},{"s":"b","n":45,"v":2021.2},{"s":"b","n":46,"v":2027.0},{"s":"b","n":47,"v":2028.0},{"s":"b","n":48,"v":2023.9},{"s":"b","n":49,"v":2022.2},{"s":"b","n":50,"v":2022.9},
      {"s":"b","n":51,"v":2025.3},{"s":"b","n":52,"v":2024.6},{"s":"b","n":53,"v":2030.4},{"s":"b","n":54,"v":2029.4},{"s":"b","n":55,"v":2032.1},{"s":"b","n":56,"v":2027.3},{"s":"b","n":57,"v":2034.8},{"s":"b","n":58,"v":2022.2},{"s":"b","n":59,"v":2028.0},{"s":"b","n":60,"v":2025.9},
      {"s":"b","n":61,"v":2029.7},{"s":"b","n":62,"v":2031.1},{"s":"b","n":63,"v":2023.9},{"s":"b","n":64,"v":2029.7},{"s":"b","n":65,"v":2027.6},{"s":"b","n":66,"v":2032.1},{"s":"b","n":67,"v":2029.7},{"s":"b","n":68,"v":2021.2},{"s":"b","n":69,"v":2026.3},{"s":"b","n":70,"v":2030.7},
      {"s":"b","n":71,"v":2030.4},{"s":"b","n":72,"v":2029.4},{"s":"b","n":73,"v":2026.3},{"s":"b","n":74,"v":2028.0},{"s":"b","n":75,"v":2022.5},{"s":"b","n":76,"v":2028.0},{"s":"b","n":77,"v":2025.3},{"s":"b","n":78,"v":2022.9},{"s":"b","n":79,"v":2029.4},{"s":"b","n":80,"v":2028.7},
      {"s":"b","n":81,"v":2027.3},{"s":"b","n":82,"v":2025.3},{"s":"b","n":83,"v":2025.9},{"s":"b","n":84,"v":2027.0},{"s":"b","n":85,"v":2025.3},{"s":"b","n":86,"v":2027.6},{"s":"b","n":87,"v":2026.3},{"s":"b","n":88,"v":2028.7},{"s":"b","n":89,"v":2024.9},{"s":"b","n":90,"v":2029.4},
      {"s":"b","n":91,"v":2026.6},{"s":"b","n":92,"v":2027.3},{"s":"b","n":93,"v":2028.0},{"s":"b","n":94,"v":2028.0},{"s":"b","n":95,"v":2027.3},{"s":"b","n":96,"v":2027.0},{"s":"b","n":97,"v":2026.6},{"s":"b","n":98,"v":2027.0},{"s":"b","n":99,"v":2026.6},
      {"s":"r","n":1,"v":1804.5},{"s":"r","n":2,"v":2171.4},{"s":"r","n":3,"v":2083.6},{"s":"r","n":4,"v":2029.2},{"s":"r","n":5,"v":2200.9},{"s":"r","n":6,"v":2099.1},{"s":"r","n":7,"v":2124.1},{"s":"r","n":8,"v":2075.9},{"s":"r","n":9,"v":2131.2},{"s":"r","n":10,"v":2140.8},
      {"s":"r","n":11,"v":2122.9},{"s":"r","n":12,"v":2087.8},{"s":"r","n":13,"v":2075.3},{"s":"r","n":14,"v":2043.2},{"s":"r","n":15,"v":2061.0},{"s":"r","n":16,"v":2015.2},{"s":"r","n":17,"v":2090.2},{"s":"r","n":18,"v":2152.7},{"s":"r","n":19,"v":2099.1},{"s":"r","n":20,"v":2075.3},
      {"s":"r","n":21,"v":2048.5},{"s":"r","n":22,"v":2081.8},{"s":"r","n":23,"v":2085.7},{"s":"r","n":24,"v":2072.9},{"s":"r","n":25,"v":2061.3},{"s":"r","n":26,"v":2048.5},{"s":"r","n":27,"v":2103.3},{"s":"r","n":28,"v":2091.4},{"s":"r","n":29,"v":2089.6},{"s":"r","n":30,"v":2080.1},
      {"s":"r","n":31,"v":2122.3},{"s":"r","n":32,"v":2114.6},{"s":"r","n":33,"v":2094.0},{"s":"r","n":34,"v":2150.3},{"s":"r","n":35,"v":2069.3},{"s":"r","n":36,"v":2118.2},{"s":"r","n":37,"v":2093.2},{"s":"r","n":38,"v":2092.0},{"s":"r","n":39,"v":2051.5},{"s":"r","n":40,"v":2105.8},
      {"s":"r","n":41,"v":2088.7},{"s":"r","n":42,"v":2099.7},{"s":"r","n":43,"v":2084.0},{"s":"r","n":44,"v":2101.4},{"s":"r","n":45,"v":2136.5},{"s":"r","n":46,"v":2142.0},{"s":"r","n":47,"v":2085.3},{"s":"r","n":48,"v":2103.8},{"s":"r","n":49,"v":2146.4},{"s":"r","n":50,"v":2088.1},
      {"s":"r","n":51,"v":2079.2},{"s":"r","n":52,"v":2080.2},{"s":"r","n":53,"v":2058.0},{"s":"r","n":54,"v":2053.2},{"s":"r","n":55,"v":2075.8},{"s":"r","n":56,"v":2092.2},{"s":"r","n":57,"v":2071.3},{"s":"r","n":58,"v":2079.2},{"s":"r","n":59,"v":2118.1},{"s":"r","n":60,"v":2092.2},
      {"s":"r","n":61,"v":2081.9},{"s":"r","n":62,"v":2065.5},{"s":"r","n":63,"v":2049.1},{"s":"r","n":64,"v":2083.6},{"s":"r","n":65,"v":2093.5},{"s":"r","n":66,"v":2064.5},{"s":"r","n":67,"v":2081.6},{"s":"r","n":68,"v":2092.5},{"s":"r","n":69,"v":2094.2},{"s":"r","n":70,"v":2084.0},
      {"s":"r","n":71,"v":2079.9},{"s":"r","n":72,"v":2083.3},{"s":"r","n":73,"v":2062.1},{"s":"r","n":74,"v":2081.2},{"s":"r","n":75,"v":2077.5},{"s":"r","n":76,"v":2074.1},{"s":"r","n":77,"v":2090.1},{"s":"r","n":78,"v":2079.2},{"s":"r","n":79,"v":2076.4},{"s":"r","n":80,"v":2091.1},
      {"s":"r","n":81,"v":2065.5},{"s":"r","n":82,"v":2081.6},{"s":"r","n":83,"v":2080.5},{"s":"r","n":84,"v":2103.1},{"s":"r","n":85,"v":2089.4},{"s":"r","n":86,"v":2084.0},{"s":"r","n":87,"v":2068.9},{"s":"r","n":88,"v":2080.5},{"s":"r","n":89,"v":2088.4},{"s":"r","n":90,"v":2081.9},
      {"s":"r","n":91,"v":2079.2},{"s":"r","n":92,"v":2082.6},{"s":"r","n":93,"v":2076.4},{"s":"r","n":94,"v":2082.3},{"s":"r","n":95,"v":2091.5},{"s":"r","n":96,"v":2081.2},{"s":"r","n":97,"v":2083.3},{"s":"r","n":98,"v":2080.2},{"s":"r","n":99,"v":2081.9}
    ]
  },
  "concat": [
    {
      "width": 565, "height": 488,
      "title": "BR",
      "data": {"name": "bru"},
      "mark": "line",
      "encoding": {
        "x": {"field": "n", "type": "quantitative", "scale": {"domain": [-3.9, 103.9], "nice": false, "zero": false}, "axis": {"values": [0, 20, 40, 60, 80, 100], "title": "Number of Seeds"}},
        "y": {"field": "v", "type": "quantitative", "scale": {"domain": [3242.5, 4507.5], "nice": false, "zero": false}, "axis": {"values": [3400, 3600, 3800, 4000, 4200, 4400], "title": "Ultimate:\u00a0 YawBrMzp [N-m]"}},
        "color": {"field": "s", "type": "nominal", "scale": {"domain": ["b", "r"], "range": ["#0000ff", "#ff0000"]}, "legend": null}
      }
    },
    {
      "width": 565, "height": 488,
      "title": "NR",
      "data": {"name": "nru"},
      "mark": "line",
      "encoding": {
        "x": {"field": "n", "type": "quantitative", "scale": {"domain": [-3.9, 103.9], "nice": false, "zero": false}, "axis": {"values": [0, 20, 40, 60, 80, 100], "title": "Number of Seeds"}},
        "y": {"field": "v", "type": "quantitative", "scale": {"domain": [4415, 6075], "nice": false, "zero": false}, "axis": {"values": [4600, 4800, 5000, 5200, 5400, 5600, 5800, 6000], "title": null}},
        "color": {"field": "s", "type": "nominal", "scale": {"domain": ["b", "r"], "range": ["#0000ff", "#ff0000"]}, "legend": null}
      }
    },
    {
      "width": 565, "height": 488,
      "title": "AR",
      "data": {"name": "aru"},
      "mark": "line",
      "encoding": {
        "x": {"field": "n", "type": "quantitative", "scale": {"domain": [-3.9, 103.9], "nice": false, "zero": false}, "axis": {"values": [0, 20, 40, 60, 80, 100], "title": "Number of Seeds"}},
        "y": {"field": "v", "type": "quantitative", "scale": {"domain": [7170, 9445], "nice": false, "zero": false}, "axis": {"values": [7500, 8000, 8500, 9000], "title": null}},
        "color": {"field": "s", "type": "nominal", "scale": {"domain": ["b", "r"], "range": ["#0000ff", "#ff0000"]}, "legend": null}
      }
    },
    {
      "width": 565, "height": 488,
      "data": {"name": "brf"},
      "mark": "line",
      "encoding": {
        "x": {"field": "n", "type": "quantitative", "scale": {"domain": [-3.9, 103.9], "nice": false, "zero": false}, "axis": {"values": [0, 20, 40, 60, 80, 100], "title": "Number of Seeds"}},
        "y": {"field": "v", "type": "quantitative", "scale": {"domain": [853.1, 1008.8], "nice": false, "zero": false}, "axis": {"values": [860, 880, 900, 920, 940, 960, 980, 1000], "title": "Fatigue:\u00a0 YawBrMzp [N-m]"}},
        "color": {"field": "s", "type": "nominal", "scale": {"domain": ["b", "r"], "range": ["#0000ff", "#ff0000"]}, "legend": null}
      }
    },
    {
      "width": 565, "height": 488,
      "data": {"name": "nrf"},
      "mark": "line",
      "encoding": {
        "x": {"field": "n", "type": "quantitative", "scale": {"domain": [-3.9, 103.9], "nice": false, "zero": false}, "axis": {"values": [0, 20, 40, 60, 80, 100], "title": "Number of Seeds"}},
        "y": {"field": "v", "type": "quantitative", "scale": {"domain": [1152.3, 1377.2], "nice": false, "zero": false}, "axis": {"values": [1175, 1200, 1225, 1250, 1275, 1300, 1325, 1350, 1375], "title": null}},
        "color": {"field": "s", "type": "nominal", "scale": {"domain": ["b", "r"], "range": ["#0000ff", "#ff0000"]}, "legend": null}
      }
    },
    {
      "width": 565, "height": 488,
      "data": {"name": "arf"},
      "mark": "line",
      "encoding": {
        "x": {"field": "n", "type": "quantitative", "scale": {"domain": [-3.9, 103.9], "nice": false, "zero": false}, "axis": {"values": [0, 20, 40, 60, 80, 100], "title": "Number of Seeds"}},
        "y": {"field": "v", "type": "quantitative", "scale": {"domain": [1784.3, 2220.8], "nice": false, "zero": false}, "axis": {"values": [1800, 1850, 1900, 1950, 2000, 2050, 2100, 2150, 2200], "title": null}},
        "color": {"field": "s", "type": "nominal", "scale": {"domain": ["b", "r"], "range": ["#0000ff", "#ff0000"]}, "legend": null}
      }
    }
  ]
}
